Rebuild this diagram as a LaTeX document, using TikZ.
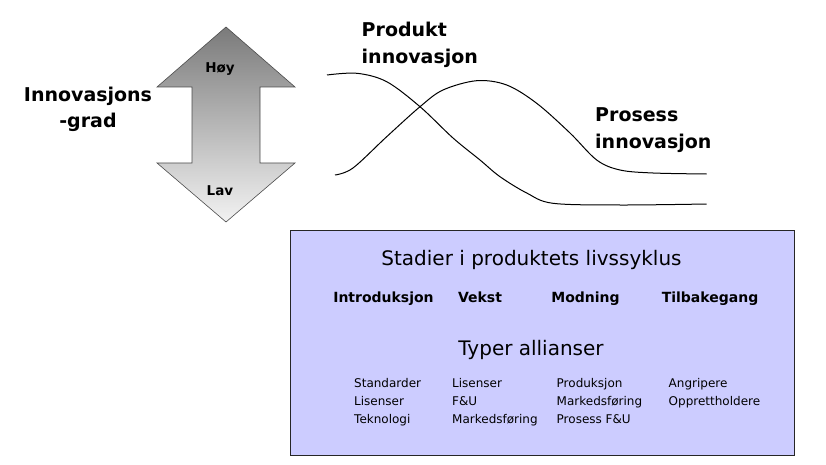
\documentclass[tikz,border=0pt]{standalone}
\usepackage{fontspec}
\setmainfont{DejaVu Sans}
\definecolor{stagebox}{RGB}{204,204,255}
\tikzset{
  headtext/.style={font=\fontsize{19}{26.5}\selectfont\bfseries, inner sep=0pt},
  arrowtext/.style={font=\fontsize{13.5}{16}\selectfont\bfseries, inner sep=0pt, anchor=base},
  titletext/.style={font=\fontsize{20}{24}\selectfont, inner sep=0pt, anchor=base},
  stagetext/.style={font=\fontsize{14}{16}\selectfont\bfseries, inner sep=0pt, anchor=base},
  listtext/.style={font=\fontsize{12}{18}\selectfont, inner sep=0pt, anchor=base west, align=left},
  curve/.style={line width=1pt, smooth, tension=0.55}
}
\begin{document}
\begin{tikzpicture}[x=1pt,y=-1pt]
  \useasboundingbox (0,0) rectangle (826,465);
  % The degree of innovation (base = last line)
  \node[headtext, align=center, anchor=base] (grad) at (88,128) {Innovasjons\\-grad};
  \shade[top color=black!52, bottom color=black!5, draw=black!70, line width=0.6pt]
    (226,27) -- (295,87) -- (260,87) -- (260,163) -- (295,163) -- (226,222)
    -- (157,163) -- (192,163) -- (192,87) -- (157,87) -- cycle;
  \node[arrowtext] (hoy) at (220,72.7) {Høy};
  \node[arrowtext] (lav) at (220,195) {Lav};
  % The two innovation curves
  \node[headtext, align=left, anchor=base west] (produkt) at (361.5,63.3) {Produkt\\innovasjon};
  \node[headtext, align=left, anchor=base west] (prosess) at (595,148.3) {Prosess\\innovasjon};
  \draw[curve] plot coordinates {(327,75) (357,73.3) (386.7,81.7) (420,106.7) (453,138)
    (480,160) (500,176.7) (526.7,193) (553,203.3) (620,205) (706.7,204)};
  \draw[curve] plot coordinates {(335,175) (353,168) (386.7,136.7) (420,106.7) (443,90)
    (476.7,80.7) (506.7,85) (536.7,103.3) (570,133) (596.7,160) (620,170) (653,173) (706.7,174)};
  % The life cycle box
  \draw[fill=stagebox, draw=black!85, line width=0.8pt] (290,230) rectangle (794,455.5);
  \node[titletext] (stadier) at (531.5,265) {Stadier i produktets livssyklus};
  \node[stagetext] (intro) at (383.5,302) {Introduksjon};
  \node[stagetext] (vekst) at (480,302) {Vekst};
  \node[stagetext] (modning) at (585.5,302) {Modning};
  \node[stagetext] (tilbake) at (710,302) {Tilbakegang};
  \node[titletext] (typer) at (531,355) {Typer allianser};
  % alliance lists, placed by the baseline of their last line
  \node[listtext] (col1) at (354,423.3) {Standarder\\Lisenser\\Teknologi};
  \node[listtext] (col2) at (452,423.3) {Lisenser\\F\&U\\Markedsføring};
  \node[listtext] (col3) at (556.5,423.3) {Produksjon\\Markedsføring\\Prosess F\&U};
  \node[listtext] (col4) at (668.5,405.3) {Angripere\\Opprettholdere};
\end{tikzpicture}
\end{document}
